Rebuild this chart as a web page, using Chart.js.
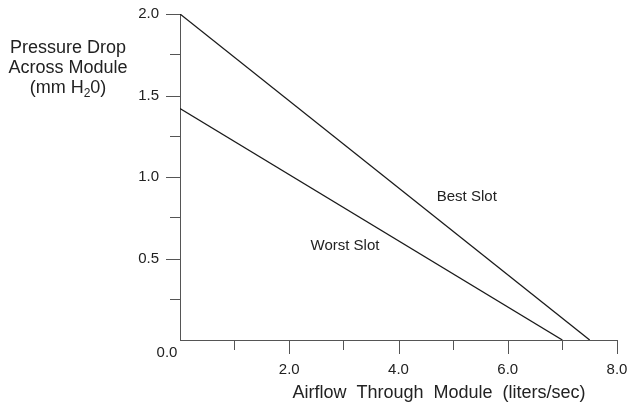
<!DOCTYPE html>
<html>
<head>
<meta charset="utf-8">
<script src="https://cdn.jsdelivr.net/npm/chart.js@4"></script>
<style>
html,body{margin:0;padding:0;background:#fff;}
canvas{display:block;}
</style>
</head>
<body>
<canvas id="c" width="629" height="407"></canvas>
<script>
// Data
const bestX = [0, 7.5];
const bestY = [2.0, 0];
const worstX = [0, 7.0];
const worstY = [1.42, 0];
const xLabelValues = [2, 4, 6, 8];
const yLabelValues = [0.5, 1.0, 1.5, 2.0];
const seriesNames = ['Best Slot', 'Worst Slot'];
const labelPos = [[5.25, 0.88], [3.02, 0.58]];
const yTitleLines = ['Pressure Drop', 'Across Module', '(mm H\u20820)'];
const xTitle = 'Airflow  Through  Module  (liters/sec)';

const FONT = '"Liberation Sans", Arial, sans-serif';
const AXIS = '#555';
const toPts = (xs, ys) => xs.map((x, i) => ({x: x, y: ys[i]}));
const isMajorY = v => yLabelValues.some(t => Math.abs(t - v) < 1e-9);
const isMajorX = v => xLabelValues.includes(v);

const textPlugin = {
  id: 'texts',
  afterDraw(chart) {
    const ctx = chart.ctx, xs = chart.scales.x, ys = chart.scales.y;
    const ca = chart.chartArea;
    ctx.save();
    // major ticks (longer)
    ctx.strokeStyle = AXIS;
    ctx.lineWidth = 1;
    ctx.beginPath();
    xLabelValues.forEach(v => {
      const px = Math.round(xs.getPixelForValue(v)) + 0.5;
      ctx.moveTo(px, ca.bottom);
      ctx.lineTo(px, ca.bottom + 14);
    });
    yLabelValues.forEach(v => {
      const py = Math.round(ys.getPixelForValue(v)) + 0.5;
      ctx.moveTo(ca.left - 14, py);
      ctx.lineTo(ca.left, py);
    });
    ctx.stroke();

    ctx.fillStyle = '#222';
    ctx.textAlign = 'center';
    ctx.textBaseline = 'middle';
    // series labels
    ctx.font = '15px ' + FONT;
    seriesNames.forEach((n, i) => {
      ctx.fillText(n, xs.getPixelForValue(labelPos[i][0]), ys.getPixelForValue(labelPos[i][1]));
    });
    // y title
    ctx.font = '18px ' + FONT;
    ctx.fillText(yTitleLines[0], 68, 48);
    ctx.fillText(yTitleLines[1], 68, 68);
    // (mm H20) with subscript
    const pre = '(mm H', sub = '2', post = '0)';
    ctx.textAlign = 'left';
    const wPre = ctx.measureText(pre).width, wPost = ctx.measureText(post).width;
    ctx.font = '12px ' + FONT;
    const wSub = ctx.measureText(sub).width;
    let sx = 68 - (wPre + wSub + wPost) / 2;
    ctx.font = '18px ' + FONT;
    ctx.fillText(pre, sx, 88);
    ctx.font = '12px ' + FONT;
    ctx.fillText(sub, sx + wPre, 94);
    ctx.font = '18px ' + FONT;
    ctx.fillText(post, sx + wPre + wSub, 88);
    // x title
    ctx.textAlign = 'center';
    ctx.fillText(xTitle, 439, 393);
    // origin label
    ctx.font = '15px ' + FONT;
    ctx.fillText('0.0', 167, 353);
    ctx.restore();
  }
};

new Chart(document.getElementById('c'), {
  type: 'scatter',
  data: {
    datasets: [
      {label: seriesNames[0], data: toPts(bestX, bestY), showLine: true, borderColor: '#1a1a1a', borderWidth: 1.3, pointRadius: 0, fill: false},
      {label: seriesNames[1], data: toPts(worstX, worstY), showLine: true, borderColor: '#1a1a1a', borderWidth: 1.3, pointRadius: 0, fill: false}
    ]
  },
  options: {
    responsive: false,
    animation: false,
    devicePixelRatio: 1,
    layout: {padding: {left: 0, top: 14, right: 12, bottom: 0}},
    plugins: {legend: {display: false}, tooltip: {enabled: false}, title: {display: false}},
    scales: {
      x: {
        type: 'linear', min: 0, max: 8,
        afterFit: s => { s.height = 67; s.paddingLeft = 0; s.paddingRight = 0; },
        ticks: {
          stepSize: 1, autoSkip: false, maxRotation: 0, padding: 11,
          color: '#222', font: {family: FONT, size: 15},
          callback: v => isMajorX(v) ? v.toFixed(1) : ''
        },
        grid: {drawOnChartArea: false, drawTicks: true, tickLength: 10,
          color: c => c.tick && (c.tick.value === 0 || isMajorX(c.tick.value)) ? 'rgba(0,0,0,0)' : AXIS},
        border: {display: true, color: AXIS, width: 1}
      },
      y: {
        type: 'linear', min: 0, max: 2,
        afterFit: s => { s.width = 180; s.paddingTop = 0; s.paddingBottom = 0; },
        ticks: {
          stepSize: 0.25, autoSkip: false, padding: 11,
          color: '#222', font: {family: FONT, size: 15},
          callback: v => isMajorY(v) ? v.toFixed(1) : ''
        },
        grid: {drawOnChartArea: false, drawTicks: true, tickLength: 10,
          color: c => c.tick && (c.tick.value === 0 || isMajorY(c.tick.value)) ? 'rgba(0,0,0,0)' : AXIS},
        border: {display: true, color: AXIS, width: 1}
      }
    }
  },
  plugins: [textPlugin]
});
</script>
</body>
</html>
